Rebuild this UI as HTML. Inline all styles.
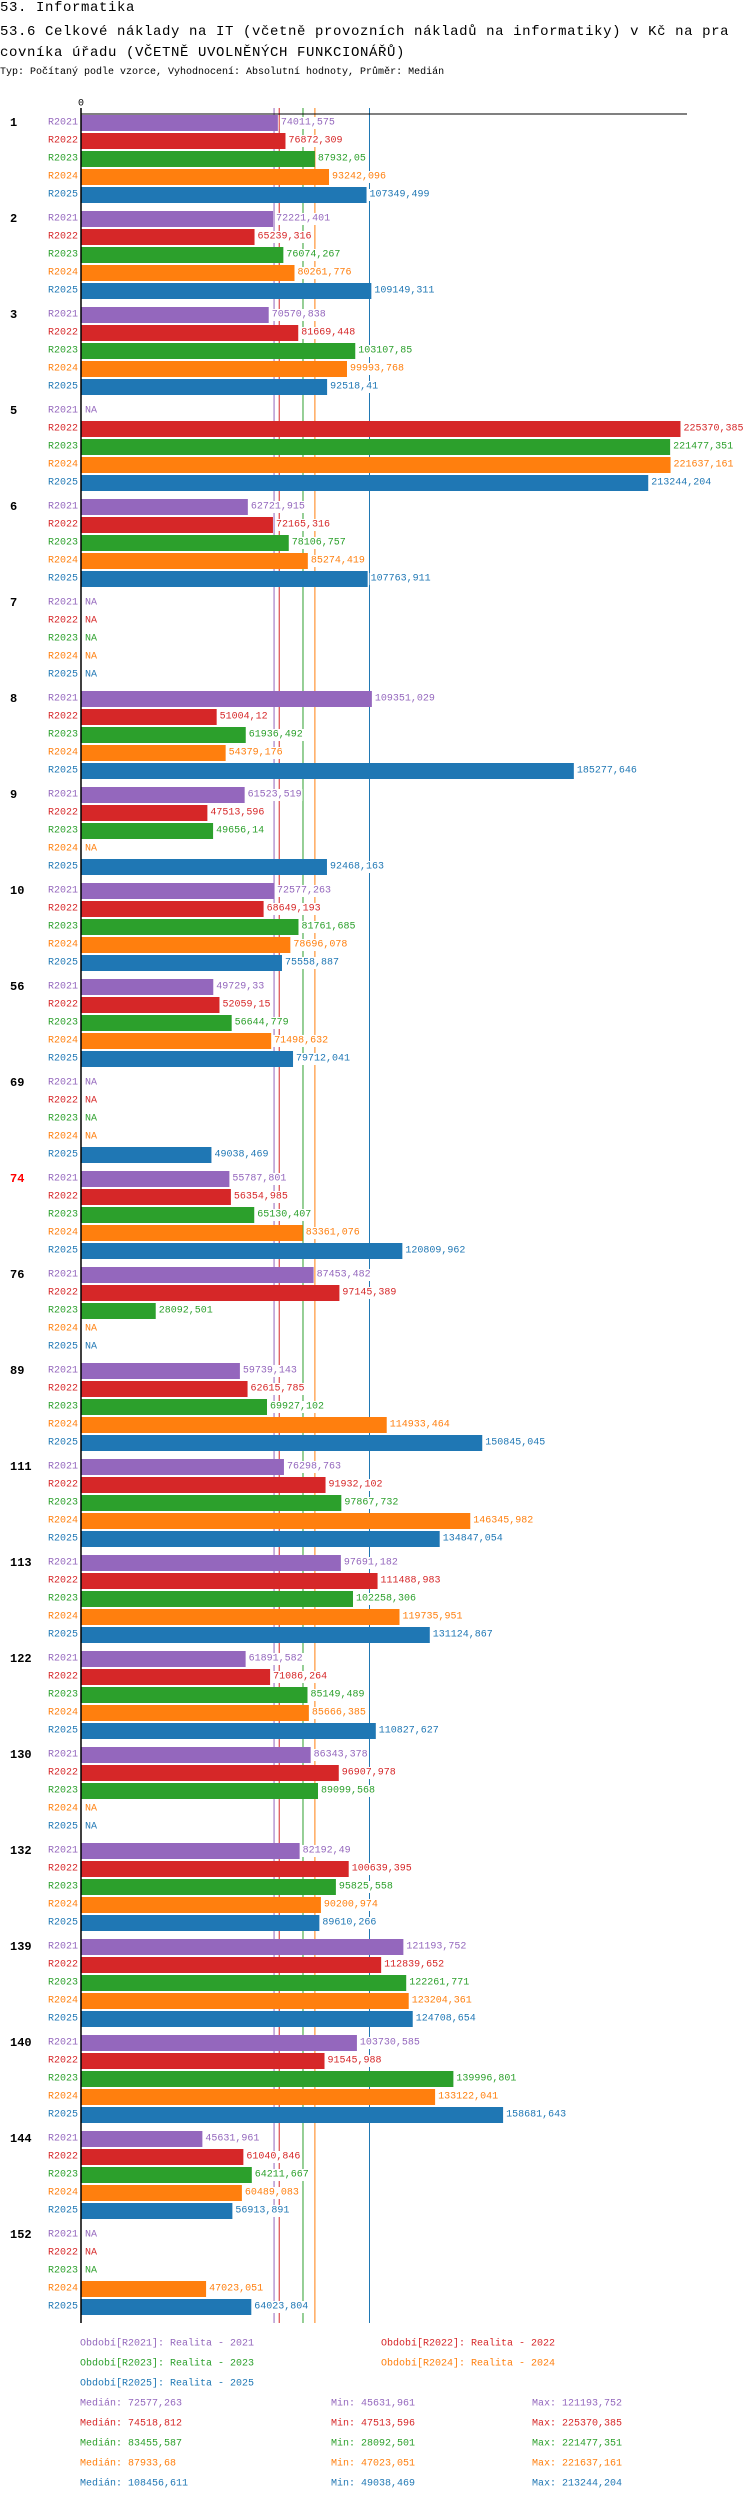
<!DOCTYPE html>
<html><head><meta charset="utf-8"><style>
body{margin:0;background:#fff;width:750px;height:2502px;overflow:hidden}
.t{position:absolute;left:0;font-family:"Liberation Mono",monospace;color:#000;white-space:nowrap}
svg text{font-family:"Liberation Mono",monospace}
</style></head><body>
<div class="t" style="top:0;font-size:14px;letter-spacing:0.6px;line-height:16px">53. Informatika</div>
<div class="t" style="top:22px;font-size:14px;letter-spacing:0.6px;line-height:21px">53.6 Celkové náklady na IT (včetně provozních nákladů na informatiky) v Kč na pra<br>covníka úřadu (VČETNĚ UVOLNĚNÝCH FUNKCIONÁŘŮ)</div>
<div class="t" style="top:66px;font-size:10px;line-height:14px">Typ: Počítaný podle vzorce, Vyhodnocení: Absolutní hodnoty, Průměr: Medián</div>
<svg id="c" width="750" height="2502" style="position:absolute;left:0;top:0"></svg>
<script>
const groups=["1","2","3","5","6","7","8","9","10","56","69","74","76","89","111","113","122","130","132","139","140","144","152"];
const seriesNames=["R2021","R2022","R2023","R2024","R2025"];
const r2021=[74011.575,72221.401,70570.838,null,62721.915,null,109351.029,61523.519,72577.263,49729.33,null,55787.801,87453.482,59739.143,76298.763,97691.182,61891.582,86343.378,82192.49,121193.752,103730.585,45631.961,null];
const r2022=[76872.309,65239.316,81669.448,225370.385,72165.316,null,51004.12,47513.596,68649.193,52059.15,null,56354.985,97145.389,62615.785,91932.102,111488.983,71086.264,96907.978,100639.395,112839.652,91545.988,61040.846,null];
const r2023=[87932.05,76074.267,103107.85,221477.351,78106.757,null,61936.492,49656.14,81761.685,56644.779,null,65130.407,28092.501,69927.102,97867.732,102258.306,85149.489,89099.568,95825.558,122261.771,139996.801,64211.667,null];
const r2024=[93242.096,80261.776,99993.768,221637.161,85274.419,null,54379.176,null,78696.078,71498.632,null,83361.076,null,114933.464,146345.982,119735.951,85666.385,null,90200.974,123204.361,133122.041,60489.083,47023.051];
const r2025=[107349.499,109149.311,92518.41,213244.204,107763.911,null,185277.646,92468.163,75558.887,79712.041,49038.469,120809.962,null,150845.045,134847.054,131124.867,110827.627,null,89610.266,124708.654,158681.643,56913.891,64023.804];
const medians=[72577.263,74518.812,83455.587,87933.68,108456.611];
const mins=[45631.961,47513.596,28092.501,47023.051,49038.469];
const maxs=[121193.752,225370.385,221477.351,221637.161,213244.204];
const legendLabels=["Realita - 2021","Realita - 2022","Realita - 2023","Realita - 2024","Realita - 2025"];
const series=[r2021,r2022,r2023,r2024,r2025];
const colors=["#9467bd","#d62728","#2ca02c","#ff7f0e","#1f77b4"];
const NS="http://www.w3.org/2000/svg",svg=document.getElementById("c");
const X0=81,K=0.00266,Y0=123,GP=96,RP=18;
const x=v=>X0+v*K, y=(g,j)=>Y0+g*GP+j*RP;
const fmt=v=>String(v).replace('.',',');
function mk(t,a,p){const e=document.createElementNS(NS,t);for(const k in a)e.setAttribute(k,a[k]);(p||svg).appendChild(e);return e;}
function tx(s,a){const e=mk("text",Object.assign({"font-size":10,"dominant-baseline":"central"},a));e.textContent=s;return e;}
const yTop=108,yBot=2323;
medians.forEach((m,i)=>{const l=mk("line",{x1:x(m),x2:x(m),y1:yTop,y2:yBot,stroke:colors[i],"stroke-width":1});

});
groups.forEach((gname,g)=>{
 const gl=tx(gname,{x:10,y:y(g,0),"font-weight":"bold","font-size":12,fill:gname==="74"?"#ff0000":"#000","font-family":"Liberation Sans,sans-serif"});
 
 
 series.forEach((s,j)=>{
  const v=s[g],cy=y(g,j);
  const rl=tx(seriesNames[j],{x:78,y:cy,"text-anchor":"end",fill:colors[j]});
  
  
  if(v===null){const na=tx("NA",{x:85,y:cy,fill:colors[j]});
   
   return;}
  const b=mk("rect",{x:X0,y:cy-8,width:x(v)-X0,height:16,fill:colors[j]});
  
  
  const s2=fmt(v),lx=x(v)+3;
  mk("rect",{x:lx-1,y:cy-6,width:s2.length*6+2,height:12,fill:"#fff"});
  const vl=tx(s2,{x:lx,y:cy,fill:colors[j]});
  
  
 });
});
const ya=mk("line",{x1:X0,x2:X0,y1:yTop,y2:yBot,stroke:"#000","stroke-width":1.5});


const xa=mk("line",{x1:X0,x2:687,y1:114,y2:114,stroke:"#000","stroke-width":1});


const z=tx("0",{x:X0,y:104,"text-anchor":"middle",fill:"#000"});


const lpos=[[80,2344],[381,2344],[80,2364],[381,2364],[80,2384]];
seriesNames.forEach((n,i)=>{const e=tx("Období["+n+"]: "+legendLabels[i],{x:lpos[i][0],y:lpos[i][1],fill:colors[i]});
 
 });
seriesNames.forEach((n,i)=>{const yy=2404+i*20;
 const a=tx("Medián: "+fmt(medians[i]),{x:80,y:yy,fill:colors[i]});
 
 
 const b=tx("Min: "+fmt(mins[i]),{x:331,y:yy,fill:colors[i]});
 
 
 const c=tx("Max: "+fmt(maxs[i]),{x:532,y:yy,fill:colors[i]});
 
 });
</script>
</body></html>
